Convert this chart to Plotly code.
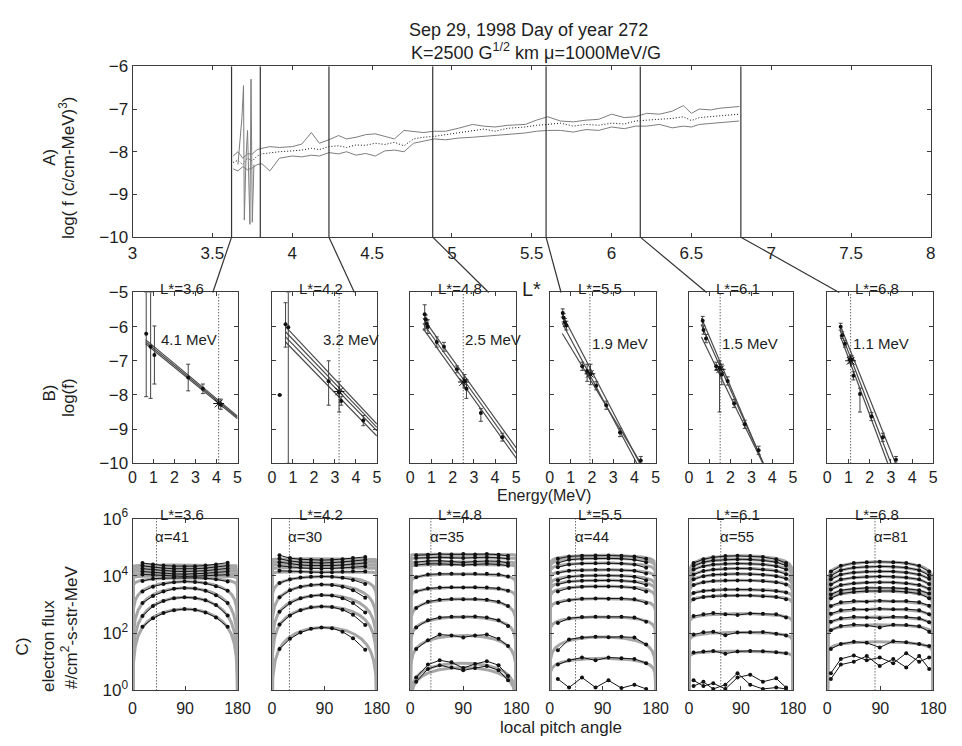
import numpy as np
import plotly.graph_objects as go

W, H = 962, 746
FONT = "Liberation Sans, Arial, Helvetica, sans-serif"
INK = "#1e1e1e"
FRAME = "#3c3c3c"
DOTS = "1px,2px"

# ---------------- A) log f along L* ----------------
A_L = [3.63, 3.66, 3.69, 3.72, 3.75, 3.78, 3.81, 3.86, 3.92, 4.00,
       4.06, 4.12, 4.17, 4.23, 4.29, 4.34, 4.40, 4.46, 4.52, 4.58,
       4.64, 4.70, 4.76, 4.82, 4.89, 4.96, 5.04, 5.13, 5.20, 5.27,
       5.35, 5.46, 5.53, 5.60, 5.68, 5.76, 5.84, 5.92, 6.00, 6.08,
       6.15, 6.22, 6.30, 6.38, 6.45, 6.50, 6.55, 6.62, 6.68, 6.74, 6.80]
A_MID = [-8.25, -8.20, -8.30, -8.15, -8.22, -8.10, -8.05, -8.02, -8.00, -7.98,
         -7.96, -7.92, -7.95, -7.88, -7.86, -7.90, -7.84, -7.85, -7.80, -7.83,
         -7.78, -7.86, -7.70, -7.66, -7.64, -7.60, -7.56, -7.50, -7.47, -7.52,
         -7.45, -7.42, -7.38, -7.36, -7.33, -7.40, -7.36, -7.38, -7.33, -7.35,
         -7.28, -7.26, -7.24, -7.22, -7.18, -7.27, -7.20, -7.18, -7.16, -7.14, -7.12]
A_UP = [-8.10, -8.00, -8.15, -8.05, -8.05, -7.95, -7.92, -7.88, -7.90, -7.88,
        -7.82, -7.55, -7.80, -7.72, -7.62, -7.70, -7.66, -7.60, -7.58, -7.64,
        -7.70, -7.50, -7.52, -7.55, -7.52, -7.52, -7.45, -7.36, -7.40, -7.42,
        -7.38, -7.36, -7.26, -7.18, -7.28, -7.30, -7.26, -7.24, -7.12, -7.20,
        -7.18, -7.10, -7.12, -7.05, -6.92, -7.10, -7.00, -7.02, -6.98, -6.96, -6.94]
A_LO = [-8.40, -8.45, -8.35, -8.42, -8.38, -8.30, -8.28, -8.45, -8.15, -8.10,
        -8.12, -8.08, -8.10, -8.02, -8.05, -8.00, -8.08, -8.04, -8.10, -7.98,
        -7.96, -8.00, -7.80, -7.76, -7.70, -7.72, -7.68, -7.66, -7.64, -7.62,
        -7.60, -7.56, -7.52, -7.50, -7.50, -7.54, -7.48, -7.50, -7.42, -7.46,
        -7.40, -7.40, -7.36, -7.44, -7.40, -7.42, -7.36, -7.34, -7.32, -7.30, -7.28]
A_SPIKE_L = [3.66, 3.685, 3.695, 3.70, 3.71, 3.72, 3.735, 3.742, 3.75, 3.76]
A_SPIKE_F = [-8.30, -7.20, -6.45, -9.60, -8.20, -7.50, -9.70, -6.30, -9.65, -8.30]
A_CUT_L = [3.62, 3.80, 4.23, 4.88, 5.59, 6.18, 6.81]
A_XTICKS = [3, 3.5, 4, 4.5, 5, 5.5, 6, 6.5, 7, 7.5, 8]

# ---------------- B) log f versus energy ----------------
L_STAR = ["3.6", "4.2", "4.8", "5.5", "6.1", "6.8"]
E_REF = [4.1, 3.2, 2.5, 1.9, 1.5, 1.1]
B_REF_F = [-8.25, -7.90, -7.62, -7.38, -7.25, -7.00]
B_E = [
    [0.65, 0.86, 1.04, 2.65, 3.35, 4.20],
    [0.37, 0.65, 0.78, 2.70, 3.20, 3.30, 4.35],
    [0.68, 0.73, 0.78, 0.83, 1.25, 1.59, 2.20, 2.56, 2.65, 3.33, 4.34],
    [0.62, 0.66, 0.72, 0.79, 1.54, 1.77, 1.93, 2.20, 2.67, 3.32, 4.30],
    [0.66, 0.70, 0.82, 1.31, 1.47, 1.58, 1.86, 2.17, 2.68, 3.35],
    [0.63, 0.70, 0.83, 1.05, 1.15, 1.23, 1.54, 2.08, 2.62, 3.24],
]
B_F = [
    [-6.21, -6.59, -6.83, -7.49, -7.82, -8.28],
    [-8.00, -5.93, -6.02, -7.60, -7.92, -8.18, -8.75],
    [-5.64, -5.78, -5.92, -6.00, -6.45, -6.59, -7.25, -7.59, -7.82, -8.53, -9.24],
    [-5.60, -5.74, -5.88, -5.97, -7.16, -7.30, -7.39, -7.73, -8.30, -9.10, -9.92],
    [-5.83, -6.10, -6.35, -7.16, -7.20, -7.40, -7.59, -8.25, -8.86, -9.62],
    [-6.00, -6.25, -6.50, -6.97, -6.97, -7.44, -7.97, -8.63, -9.24, -9.90],
]
B_LO = [
    [-8.05, -8.10, -7.68, -7.88, -7.96, -8.42],
    [-8.00, -6.60, -10.0, -8.30, -8.50, -8.30, -8.90],
    [-6.10, -5.90, -6.05, -6.20, -6.60, -6.72, -7.35, -7.80, -8.10, -8.77, -9.35],
    [-5.72, -5.86, -6.00, -6.10, -7.28, -7.60, -7.70, -7.85, -8.42, -9.22, -10.0],
    [-5.95, -6.22, -6.47, -7.28, -8.50, -7.70, -7.71, -8.37, -8.98, -9.74],
    [-6.10, -6.35, -6.60, -7.07, -7.10, -7.56, -8.50, -8.75, -9.36, -10.0],
]
B_HI = [
    [-5.00, -5.00, -5.98, -7.10, -7.68, -8.12],
    [-8.00, -5.30, -5.00, -7.00, -7.60, -8.05, -8.60],
    [-5.36, -5.66, -5.80, -5.80, -6.30, -6.46, -7.15, -7.40, -7.55, -8.40, -9.12],
    [-5.48, -5.62, -5.76, -5.84, -7.04, -7.10, -7.10, -7.61, -8.18, -8.98, -9.80],
    [-5.70, -5.98, -6.23, -7.04, -7.00, -7.10, -7.47, -8.13, -8.74, -9.50],
    [-5.90, -6.15, -6.40, -6.87, -6.85, -7.32, -7.80, -8.51, -9.12, -9.80],
]
# power-law fits: [E start, log f start, E end, log f end]
B_FIT = [
    [[0.62, -6.38, 5.0, -8.62], [0.62, -6.44, 5.0, -8.66], [0.62, -6.50, 5.0, -8.70]],
    [[0.65, -6.00, 5.0, -8.85], [0.65, -6.15, 5.0, -8.95], [0.65, -6.30, 5.0, -9.05], [0.65, -6.45, 5.0, -9.20]],
    [[0.60, -5.75, 5.0, -9.55], [0.60, -5.90, 5.0, -9.70], [0.60, -6.05, 5.0, -9.85]],
    [[0.60, -5.65, 4.5, -10.30], [0.60, -5.90, 4.5, -10.45], [0.60, -6.20, 4.5, -10.20]],
    [[0.60, -5.75, 3.60, -10.05], [0.60, -5.95, 3.65, -10.10], [0.60, -6.30, 3.55, -10.00]],
    [[0.60, -5.95, 3.25, -10.05], [0.60, -6.10, 3.00, -10.00], [0.60, -6.25, 2.85, -10.00]],
]

# ---------------- C) pitch angle distributions (log10 flux) ----------------
ALPHA_REF = [41, 30, 35, 44, 55, 81]
C_ANG = [
    [17, 35, 53, 71, 89, 107, 125, 143, 163],
    [13, 31, 49, 67, 85, 103, 121, 139, 160],
    [10, 30, 50, 70, 90, 110, 130, 150, 166],
    [14, 33, 55, 78, 100, 122, 144, 164],
    [8, 25, 42, 63, 84, 106, 128, 151, 168],
    [6, 23, 45, 67, 89, 112, 134, 156, 173],
]
C36_LOGF = [
    [4.45, 4.40, 4.36, 4.34, 4.33, 4.34, 4.36, 4.40, 4.46],
    [4.35, 4.30, 4.27, 4.25, 4.24, 4.25, 4.27, 4.31, 4.36],
    [4.25, 4.22, 4.18, 4.16, 4.15, 4.16, 4.18, 4.22, 4.26],
    [4.15, 4.12, 4.09, 4.07, 4.06, 4.07, 4.09, 4.12, 4.15],
    [4.05, 4.03, 4.01, 3.99, 3.98, 3.99, 4.01, 4.03, 4.04],
    [3.82, 3.90, 3.92, 3.93, 3.93, 3.93, 3.92, 3.88, 3.80],
    [3.45, 3.62, 3.72, 3.78, 3.80, 3.79, 3.74, 3.64, 3.48],
    [3.05, 3.30, 3.45, 3.55, 3.58, 3.56, 3.48, 3.32, 3.05],
    [2.60, 2.95, 3.12, 3.22, 3.25, 3.23, 3.15, 2.98, 2.62],
    [2.22, 2.52, 2.70, 2.80, 2.84, 2.82, 2.72, 2.55, 2.22],
]
C42_LOGF = [
    [4.72, 4.62, 4.58, 4.56, 4.55, 4.56, 4.58, 4.62, 4.66],
    [4.60, 4.52, 4.48, 4.46, 4.45, 4.46, 4.48, 4.52, 4.56],
    [4.48, 4.42, 4.38, 4.36, 4.35, 4.36, 4.38, 4.42, 4.45],
    [4.35, 4.31, 4.28, 4.26, 4.25, 4.26, 4.28, 4.30, 4.33],
    [4.18, 4.16, 4.14, 4.13, 4.12, 4.13, 4.14, 4.16, 4.15],
    [3.75, 3.88, 3.94, 3.97, 3.98, 3.97, 3.93, 3.86, 3.72],
    [3.25, 3.50, 3.62, 3.68, 3.70, 3.68, 3.62, 3.50, 3.24],
    [2.75, 3.05, 3.22, 3.30, 3.33, 3.31, 3.22, 3.05, 2.72],
    [2.30, 2.62, 2.80, 2.90, 2.93, 2.91, 2.82, 2.64, 2.28],
    [1.45, 1.80, 2.02, 2.15, 2.20, 2.17, 2.05, 1.82, 1.42],
]
C48_LOGF = [
    [4.72, 4.74, 4.76, 4.75, 4.76, 4.75, 4.76, 4.74, 4.70],
    [4.62, 4.64, 4.65, 4.63, 4.62, 4.64, 4.65, 4.63, 4.60],
    [4.48, 4.52, 4.53, 4.50, 4.47, 4.50, 4.52, 4.51, 4.45],
    [4.38, 4.42, 4.42, 4.40, 4.38, 4.40, 4.42, 4.40, 4.35],
    [3.95, 4.05, 4.07, 4.07, 4.06, 4.07, 4.07, 4.05, 3.98],
    [3.45, 3.56, 3.59, 3.60, 3.59, 3.60, 3.59, 3.56, 3.48],
    [2.88, 3.10, 3.17, 3.19, 3.18, 3.19, 3.17, 3.10, 2.95],
    [2.20, 2.45, 2.55, 2.57, 2.56, 2.58, 2.55, 2.45, 2.25],
    [1.45, 1.75, 1.95, 1.92, 1.85, 1.92, 1.95, 1.80, 1.55],
    [0.45, 0.90, 1.05, 0.98, 0.78, 0.92, 1.02, 0.88, 0.50],
    [0.30, 0.75, 0.88, 0.80, 0.70, 0.78, 0.85, 0.70, 0.35],
]
C55_LOGF = [
    [4.60, 4.68, 4.70, 4.71, 4.71, 4.70, 4.68, 4.60],
    [4.45, 4.56, 4.60, 4.61, 4.61, 4.60, 4.56, 4.48],
    [4.30, 4.40, 4.43, 4.44, 4.44, 4.43, 4.40, 4.28],
    [4.10, 4.18, 4.20, 4.21, 4.21, 4.20, 4.18, 4.08],
    [3.85, 3.97, 4.00, 4.01, 4.01, 4.00, 3.97, 3.85],
    [3.70, 3.80, 3.83, 3.84, 3.84, 3.83, 3.80, 3.68],
    [3.45, 3.58, 3.62, 3.63, 3.63, 3.62, 3.58, 3.45],
    [3.05, 3.15, 3.20, 3.21, 3.20, 3.21, 3.18, 3.05],
    [2.35, 2.52, 2.56, 2.57, 2.56, 2.57, 2.55, 2.40],
    [1.40, 1.78, 1.85, 1.87, 1.86, 1.87, 1.85, 1.60],
    [0.90, 1.05, 1.15, 1.05, 1.15, 1.12, 1.10, 0.95],
    [0.40, 0.10, 0.45, 0.10, 0.35, 0.08, 0.20, 0.05],
]
C61_LOGF = [
    [4.45, 4.58, 4.65, 4.69, 4.70, 4.69, 4.66, 4.58, 4.45],
    [4.35, 4.48, 4.54, 4.57, 4.58, 4.57, 4.54, 4.48, 4.36],
    [4.22, 4.34, 4.40, 4.42, 4.43, 4.42, 4.40, 4.34, 4.22],
    [4.05, 4.17, 4.22, 4.25, 4.26, 4.25, 4.22, 4.17, 4.06],
    [3.88, 3.99, 4.04, 4.06, 4.07, 4.06, 4.04, 3.99, 3.90],
    [3.68, 3.78, 3.82, 3.84, 3.84, 3.84, 3.82, 3.78, 3.70],
    [3.40, 3.47, 3.50, 3.52, 3.52, 3.52, 3.50, 3.47, 3.42],
    [3.18, 3.26, 3.29, 3.31, 3.31, 3.31, 3.29, 3.26, 3.18],
    [2.60, 2.66, 2.70, 2.66, 2.63, 2.69, 2.68, 2.66, 2.55],
    [1.95, 2.03, 2.05, 1.93, 2.02, 2.03, 2.04, 1.98, 1.92],
    [1.32, 1.36, 1.38, 1.28, 1.36, 1.38, 1.37, 1.33, 1.30],
    [0.35, 0.15, 0.25, 0.05, 0.45, 0.55, 0.30, 0.42, 0.10],
    [0.15, 0.30, 0.05, 0.20, 0.60, 0.20, 0.05, 0.10, 0.05],
]
C68_LOGF = [
    [4.15, 4.35, 4.45, 4.48, 4.49, 4.48, 4.45, 4.35, 4.15],
    [4.00, 4.20, 4.29, 4.32, 4.33, 4.32, 4.29, 4.20, 4.02],
    [3.88, 4.05, 4.12, 4.15, 4.16, 4.15, 4.12, 4.05, 3.90],
    [3.70, 3.88, 3.94, 3.97, 3.98, 3.97, 3.94, 3.88, 3.72],
    [3.52, 3.68, 3.74, 3.77, 3.78, 3.77, 3.74, 3.68, 3.55],
    [3.35, 3.50, 3.55, 3.58, 3.58, 3.58, 3.55, 3.50, 3.38],
    [3.22, 3.38, 3.44, 3.47, 3.47, 3.47, 3.44, 3.38, 3.22],
    [2.95, 3.08, 3.12, 3.10, 3.13, 3.11, 3.12, 3.08, 2.96],
    [2.68, 2.80, 2.84, 2.82, 2.85, 2.83, 2.84, 2.80, 2.66],
    [2.40, 2.52, 2.57, 2.55, 2.52, 2.57, 2.56, 2.52, 2.38],
    [2.10, 2.25, 2.30, 2.27, 2.20, 2.29, 2.28, 2.24, 2.05],
    [1.45, 1.62, 1.70, 1.66, 1.50, 1.72, 1.68, 1.62, 1.55],
    [0.60, 1.10, 1.22, 1.05, 1.15, 0.95, 1.30, 1.00, 1.15],
    [0.40, 0.90, 1.00, 1.20, 0.85, 1.10, 0.80, 1.20, 0.75],
]
C_LOGF = [C36_LOGF, C42_LOGF, C48_LOGF, C55_LOGF, C61_LOGF, C68_LOGF]
# sin^n fits: log10 flux at 90 deg and exponent n (None: channel not fitted)
C_FIT_LOGA = [
    [4.38, 4.28, 4.19, 4.09, 4.00, 3.93, 3.80, 3.58, 3.25, 2.84],
    [4.60, 4.50, 4.40, 4.29, 4.15, 3.98, 3.70, 3.33, 2.93, 2.20],
    [4.76, 4.64, 4.50, 4.40, 4.07, 3.60, 3.19, 2.57, 1.92, 0.95, 0.80],
    [4.72, 4.62, 4.45, 4.22, 4.02, 3.85, 3.64, 3.21, 2.57, 1.87, 1.12, None],
    [4.70, 4.58, 4.43, 4.26, 4.07, 3.85, 3.53, 3.32, 2.68, 2.03, 1.37, None, None],
    [4.49, 4.33, 4.16, 3.98, 3.78, 3.58, 3.47, 3.12, 2.84, 2.56, 2.29, 1.70, None, None],
]
C_FIT_N = [
    [0.02, 0.02, 0.02, 0.02, 0.03, 0.15, 0.60, 1.00, 1.20, 1.20],
    [0.02, 0.02, 0.02, 0.02, 0.03, 0.36, 0.70, 0.90, 1.00, 1.15],
    [0.02, 0.02, 0.03, 0.03, 0.15, 0.18, 0.40, 0.47, 0.60, 0.65, 0.65],
    [0.15, 0.15, 0.15, 0.15, 0.18, 0.18, 0.20, 0.20, 0.25, 0.50, 0.30, None],
    [0.30, 0.28, 0.25, 0.25, 0.22, 0.20, 0.15, 0.15, 0.15, 0.15, 0.10, None, None],
    [0.35, 0.33, 0.30, 0.30, 0.28, 0.25, 0.25, 0.20, 0.20, 0.18, 0.18, 0.20, None, None],
]

# ---------------- page geometry (pixels) ----------------
A_BOX = (130, 943.5, 56, 232)
COLS = [(130, 237), (272, 379), (413, 521), (555, 663), (697, 803), (838, 946)]
B_ROW = (289, 465)
C_ROW = (522, 699)
# energy on each B panel's top edge where the link from panel A lands
LINK_E = [3.82, 3.93, 3.70, 0.54, 0.85, 0.56]
LINK_CUTS = [3.62, 4.23, 4.88, 5.59, 6.18, 6.81]


def fx(px):
    return px / W


def fy(py):
    return 1 - py / H


def axis(**kw):
    d = dict(showline=True, mirror="ticks", linecolor=FRAME, linewidth=1,
             ticks="inside", ticklen=4, tickwidth=1, tickcolor=FRAME,
             showgrid=False, zeroline=False, fixedrange=True,
             tickfont=dict(family=FONT, size=17, color=INK))
    d.update(kw)
    return d


fig = go.Figure()
layout = dict(width=W, height=H, margin=dict(l=0, r=0, t=0, b=0),
              paper_bgcolor="white", plot_bgcolor="white", showlegend=False)

# ---- panel A axes and traces ----
layout["xaxis"] = axis(domain=[fx(A_BOX[0]), fx(A_BOX[1])], range=[3, 8], anchor="y",
                       tickvals=A_XTICKS, ticktext=[f"{v:g}" for v in A_XTICKS])
layout["yaxis"] = axis(domain=[fy(A_BOX[3]), fy(A_BOX[2])], range=[-10, -6], anchor="x",
                       tickvals=[-10, -9, -8, -7, -6])

for ys, col, dash in [(A_UP, "#7d7d7d", "solid"), (A_LO, "#7d7d7d", "solid"), (A_MID, "#111111", DOTS)]:
    fig.add_trace(go.Scatter(x=A_L, y=ys, mode="lines", xaxis="x", yaxis="y",
                             line=dict(color=col, width=1, dash=dash)))
fig.add_trace(go.Scatter(x=A_SPIKE_L, y=A_SPIKE_F, mode="lines", xaxis="x", yaxis="y",
                         line=dict(color="#7d7d7d", width=1)))
for L in A_CUT_L:
    fig.add_trace(go.Scatter(x=[L, L], y=[-10, -6], mode="lines", xaxis="x", yaxis="y",
                             line=dict(color="#333333", width=1.2)))

annotations = []


def text(t, px, py, size=16, angle=0, xanchor="center"):
    annotations.append(dict(text=t, x=fx(px), y=fy(py), xref="paper", yref="paper",
                            showarrow=False, textangle=angle, xanchor=xanchor, yanchor="middle",
                            font=dict(family=FONT, size=size, color=INK)))


shapes = []
for i in range(6):
    bx = f"x{i + 2}"
    by = f"y{i + 2}"
    cx = f"x{i + 8}"
    cy = f"y{i + 8}"
    x0, x1 = COLS[i]
    # ---- B panel ----
    layout[f"xaxis{i + 2}"] = axis(domain=[fx(x0), fx(x1)], range=[0, 5], anchor=by,
                                   tickvals=[0, 1, 2, 3, 4, 5],
                                   tickfont=dict(family=FONT, size=16, color=INK))
    layout[f"yaxis{i + 2}"] = axis(domain=[fy(B_ROW[1]), fy(B_ROW[0])], range=[-10, -5], anchor=bx,
                                   tickvals=[-10, -9, -8, -7, -6, -5], showticklabels=(i == 0))
    for e0, f0, e1, f1 in B_FIT[i]:
        fig.add_trace(go.Scatter(x=[e0, e1], y=[f0, f1], mode="lines", xaxis=bx, yaxis=by,
                                 line=dict(color="#4a4a4a", width=1.2)))
    fig.add_trace(go.Scatter(x=[E_REF[i], E_REF[i]], y=[-10, -5], mode="lines", xaxis=bx, yaxis=by,
                             line=dict(color="#222222", width=1, dash=DOTS)))
    f = np.array(B_F[i])
    fig.add_trace(go.Scatter(
        x=B_E[i], y=B_F[i], mode="markers", xaxis=bx, yaxis=by,
        marker=dict(color="#111111", size=4),
        error_y=dict(type="data", symmetric=False,
                     array=list(np.array(B_HI[i]) - f), arrayminus=list(f - np.array(B_LO[i])),
                     color="#444444", thickness=1, width=2)))
    fig.add_trace(go.Scatter(x=[E_REF[i]], y=[B_REF_F[i]], mode="markers", xaxis=bx, yaxis=by,
                             marker=dict(symbol="asterisk-open", size=9, color="#111111",
                                         line=dict(width=1, color="#111111"))))
    # ---- C panel ----
    layout[f"xaxis{i + 8}"] = axis(domain=[fx(x0), fx(x1)], range=[0, 180], anchor=cy,
                                   tickvals=[0, 90, 180], ticklabelstandoff=3,
                                   tickfont=dict(family=FONT, size=16, color=INK))
    layout[f"yaxis{i + 8}"] = axis(domain=[fy(C_ROW[1]), fy(C_ROW[0])], type="log", range=[0, 6],
                                   anchor=cx, tickvals=[1, 1e2, 1e4, 1e6],
                                   ticktext=["10<sup>0</sup>", "10<sup>2</sup>", "10<sup>4</sup>", "10<sup>6</sup>"],
                                   showticklabels=(i == 0))
    fit_ang = np.concatenate([[0.0], np.geomspace(1e-3, 1.0, 14), np.linspace(1.5, 178.5, 355),
                              180 - np.geomspace(1.0, 1e-3, 14), [180.0]])
    s = np.sin(np.radians(fit_ang))
    s[(fit_ang == 0) | (fit_ang == 180)] = 0.0
    for la, n in zip(C_FIT_LOGA[i], C_FIT_N[i]):
        if la is None:
            continue
        model = np.clip(10 ** la * s ** n, 1e-2, None)
        fig.add_trace(go.Scatter(x=fit_ang, y=model, mode="lines", xaxis=cx, yaxis=cy,
                                 line=dict(color="#a6a6a6", width=3)))
    fig.add_trace(go.Scatter(x=[ALPHA_REF[i], ALPHA_REF[i]], y=[1, 1e6], mode="lines", xaxis=cx, yaxis=cy,
                             line=dict(color="#222222", width=1, dash=DOTS)))
    for row in C_LOGF[i]:
        fig.add_trace(go.Scatter(x=C_ANG[i], y=[10 ** v for v in row], mode="lines+markers",
                                 xaxis=cx, yaxis=cy, line=dict(color="#151515", width=1),
                                 marker=dict(color="#111111", size=4)))

    # panel titles and in-panel labels
    mid = (x0 + x1) / 2
    text(f"L*={L_STAR[i]}", mid - 3, 285, size=15)
    text(f"L*={L_STAR[i]}", mid - 3, 518, size=15)
    annotations.append(dict(text=f"α={ALPHA_REF[i]}", x=ALPHA_REF[i], y=fy(540), xref=cx, yref="paper",
                            xanchor="left", yanchor="middle", xshift=-3, showarrow=False,
                            font=dict(family=FONT, size=15, color=INK)))
    mev_py = 337 if i < 3 else 342
    if i == 0:
        mev = dict(x=E_REF[i], xanchor="right")
    elif i == 1:
        mev = dict(x=2.35, xanchor="left")
    else:
        mev = dict(x=E_REF[i], xanchor="left")
    annotations.append(dict(text=f"{E_REF[i]:.1f} MeV", y=fy(mev_py), xref=bx, yref="paper",
                            yanchor="middle", showarrow=False,
                            font=dict(family=FONT, size=15, color=INK), **mev))

    # link from the cut in panel A down to the B panel
    ax0, ax1 = A_BOX[0], A_BOX[1]
    top_px = ax0 + (LINK_CUTS[i] - 3) / 5 * (ax1 - ax0)
    end_px = x0 + LINK_E[i] / 5 * (x1 - x0)
    shapes.append(dict(type="line", xref="paper", yref="paper",
                       x0=fx(top_px), y0=fy(A_BOX[3]), x1=fx(end_px), y1=fy(B_ROW[0]),
                       line=dict(color="#333333", width=1.2)))

# titles and axis labels
text("Sep 29, 1998 Day of year 272", 533, 19, size=18)
text("K=2500 G<sup>1/2</sup> km μ=1000MeV/G", 541, 41, size=18)
text("A)", 45, 150, size=17, angle=-90)
text("log( f (c/cm-MeV)<sup>3</sup>)", 63, 160, size=17, angle=-90)
text("B)", 45, 393, size=17, angle=-90)
text("log(f)", 65, 397, size=17, angle=-90)
text("C)", 18, 654, size=17, angle=-90)
text("electron flux", 45, 653, size=17, angle=-90)
text("#/cm<sup>2</sup>-s-str-MeV", 66, 634, size=17, angle=-90)
text("L*", 537, 285, size=20)
text("Energy(MeV)", 549, 498, size=16)
text("local pitch angle", 567, 737, size=17)

layout["annotations"] = annotations
layout["shapes"] = shapes
fig.update_layout(**layout)
fig.write_html("out.html")
